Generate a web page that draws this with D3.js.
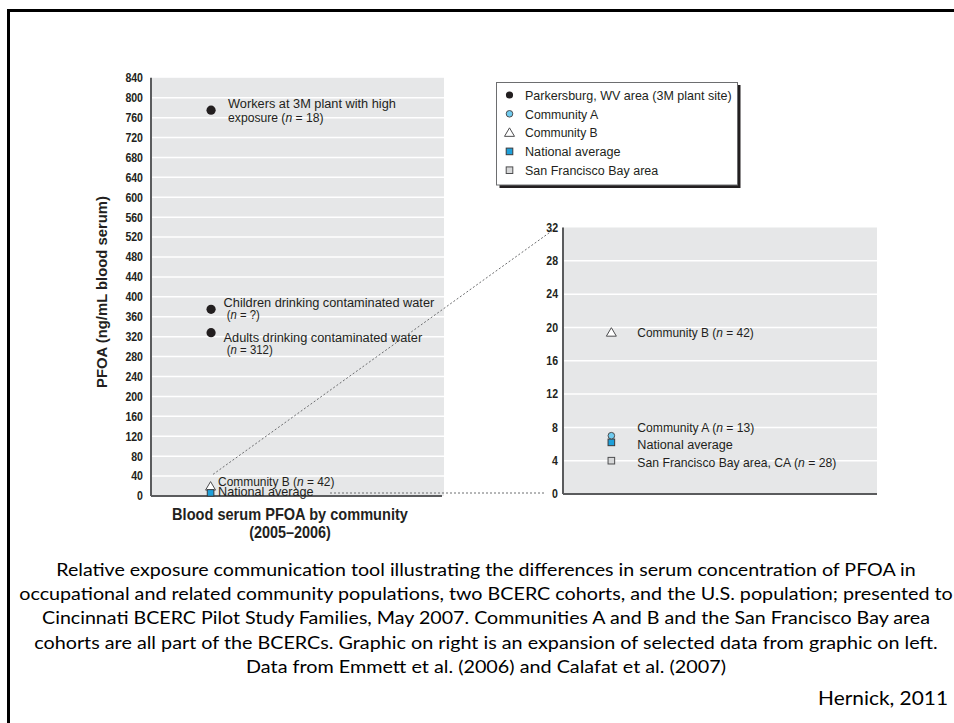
<!DOCTYPE html>
<html><head><meta charset="utf-8">
<script src="https://cdn.jsdelivr.net/npm/d3@7"></script>
<style>
html,body{margin:0;padding:0;background:#fff;}
svg{display:block;}
.c{font-family:"Liberation Sans",Arial,sans-serif;fill:#231f20;}
.cap{font-family:Lato,"Open Sans",sans-serif;fill:#000;}
</style></head>
<body>
<script>
// ---------- DATA ----------
const leftTicks = [0,40,80,120,160,200,240,280,320,360,400,440,480,520,560,600,640,680,720,760,800,840];
const rightTicks = [0,4,8,12,16,20,24,28,32];

const parkersburgLabels = [
  ["Workers at 3M plant with high", "exposure (n = 18)"],
  ["Children drinking contaminated water", "(n = ?)"],
  ["Adults drinking contaminated water", "(n = 312)"]
];
const parkersburgValues = [775, 375, 328];

const communityNames = ["Community A", "Community B", "National average", "San Francisco Bay area"];
const communityLabels = ["Community A (n = 13)", "Community B (n = 42)", "National average", "San Francisco Bay area, CA (n = 28)"];
const communityValues = [7.0, 19.4, 6.2, 4.0];

const legendLabels = ["Parkersburg, WV area (3M plant site)", "Community A", "Community B", "National average", "San Francisco Bay area"];

const yTitle = "PFOA (ng/mL blood serum)";
const xTitle = ["Blood serum PFOA by community", "(2005\u20132006)"];
const captionLines = [
  "Relative exposure communication tool illustrating the differences in serum concentration of PFOA in",
  "occupational and related community populations, two BCERC cohorts, and the U.S. population; presented to",
  "Cincinnati BCERC Pilot Study Families, May 2007. Communities A and B and the San Francisco Bay area",
  "cohorts are all part of the BCERCs. Graphic on right is an expansion of selected data from graphic on left.",
  "Data from Emmett et al. (2006) and Calafat et al. (2007)"
];
const credit = "Hernick, 2011";

// ---------- LAYOUT ----------
const W = 954, H = 723;
const svg = d3.select("body").append("svg").attr("width", W).attr("height", H);

// measured text widths (condensed look via horizontal scaling)
const textWidths = {
  "Workers at 3M plant with high": 168, "exposure (n = 18)": 95.6,
  "Children drinking contaminated water": 211, "(n = ?)": 33,
  "Adults drinking contaminated water": 199, "(n = 312)": 46,
  "Community B (n = 42)": 116.5, "Community A (n = 13)": 117, "National average": 95.6,
  "San Francisco Bay area, CA (n = 28)": 199,
  "Parkersburg, WV area (3M plant site)": 206.7, "Community A": 73.3, "Community B": 72.7,
  "San Francisco Bay area": 133.3
};

function fit(t, x, y, target, extra) {
  const w = t.node().getComputedTextLength();
  const s = target ? target / w : 1;
  t.attr("x", 0).attr("y", 0)
    .attr("transform", `translate(${x},${y})${extra || ""} scale(${s},1)`);
  return t;
}

// frame
svg.append("rect").attr("x", 8.5).attr("y", 10.5).attr("width", 1000).attr("height", 1000)
  .attr("fill", "none").attr("stroke", "#000").attr("stroke-width", 3);

const gray = "#e6e7e8", axisCol = "#5a5b5d";

const markerStyles = {
  "Parkersburg": {shape: "circle", fill: "#231f20", stroke: "none", r: 4.6},
  "Community A": {shape: "circle", fill: "#6fcbef", stroke: "#4d4d4f", r: 3.3},
  "Community B": {shape: "triangle", fill: "#fff", stroke: "#4d4d4f", r: 5},
  "National average": {shape: "square", fill: "#1ea0da", stroke: "#3a3a3c", r: 3.3},
  "San Francisco Bay area": {shape: "square", fill: "#d7d8d9", stroke: "#4d4d4f", r: 3.3}
};
function drawMarker(g, key, x, y, scale) {
  const s = markerStyles[key];
  const r = s.r * (scale || 1);
  if (s.shape === "circle") {
    g.append("circle").attr("cx", x).attr("cy", y).attr("r", r).attr("fill", s.fill)
      .attr("stroke", s.stroke).attr("stroke-width", 1);
  } else if (s.shape === "square") {
    g.append("rect").attr("x", x - r).attr("y", y - r).attr("width", 2*r).attr("height", 2*r)
      .attr("fill", s.fill).attr("stroke", s.stroke).attr("stroke-width", 1);
  } else {
    g.append("path").attr("d", `M${x},${y - r*0.95}L${x + r},${y + r*0.75}L${x - r},${y + r*0.75}Z`)
      .attr("fill", s.fill).attr("stroke", s.stroke).attr("stroke-width", 1);
  }
}
function richText(g, str, x, y, size) {
  const t = g.append("text").attr("class", "c").attr("font-size", size).attr("dy", "0.36em");
  const m = str.match(/^(.*\()n( = .*)$/);
  if (m) {
    t.append("tspan").text(m[1]);
    t.append("tspan").attr("font-style", "italic").text("n");
    t.append("tspan").text(m[2]);
  } else t.text(str);
  return fit(t, x, y, textWidths[str]);
}

// ---------- LEFT CHART ----------
const L = {x0: 151, x1: 444};
const yL = d3.scaleLinear().domain([0, 840]).range([496, 77.8]);
const xL = d3.scaleLinear().domain([0, 1]).range([L.x0, L.x1]);
const gL = svg.append("g");
gL.append("rect").attr("x", L.x0).attr("y", yL(840)).attr("width", L.x1 - L.x0).attr("height", yL(0) - yL(840)).attr("fill", gray);
gL.selectAll("line.grid").data(leftTicks.filter(d => d > 0 && d < 840)).join("line")
  .attr("x1", L.x0).attr("x2", L.x1).attr("y1", d => yL(d)).attr("y2", d => yL(d))
  .attr("stroke", "#fff").attr("stroke-width", 1.5);
const axL = gL.append("g").attr("transform", `translate(${L.x0},0)`)
  .call(d3.axisLeft(yL).tickValues(leftTicks).tickSize(0).tickPadding(8).tickFormat(d3.format("d")));
axL.select(".domain").remove();
axL.selectAll("text").attr("class", "c").attr("font-size", 12).attr("font-weight", "bold").attr("fill", "#3a3a3c")
  .attr("transform", "scale(0.88,1)");
axL.selectAll(".tick text").attr("x", -8 / 0.88);
gL.append("line").attr("x1", L.x0).attr("x2", L.x0).attr("y1", yL(840)).attr("y2", yL(0)).attr("stroke", axisCol).attr("stroke-width", 2);
gL.append("line").attr("x1", L.x0).attr("x2", 442).attr("y1", yL(0)).attr("y2", yL(0)).attr("stroke", axisCol).attr("stroke-width", 2);

const px = xL(0.205);
// dotted connectors (behind markers)
const yR = d3.scaleLinear().domain([0, 32]).range([494, 227.5]);
const R = {x0: 563, x1: 877};
svg.append("line").attr("x1", px + 2).attr("y1", yL(communityValues[1]) - 12)
  .attr("x2", R.x0 - 5).attr("y2", yR(32) - 1)
  .attr("stroke", "#6d6e70").attr("stroke-width", 1).attr("stroke-dasharray", "2,2");
svg.append("line").attr("x1", 330).attr("y1", yR(0) - 1).attr("x2", R.x0 - 18).attr("y2", yR(0) - 1)
  .attr("stroke", "#6d6e70").attr("stroke-width", 1).attr("stroke-dasharray", "2,2");

parkersburgValues.forEach(v => drawMarker(gL, "Parkersburg", px, yL(v)));
const leftLabelDy = [[-7, 7], [-7, 4.5], [4.5, 16]];
const leftLabelDx = [[17, 17], [12.5, 15.7], [12.5, 15.7]];
parkersburgLabels.forEach((lines, i) => {
  lines.forEach((ln, j) => richText(gL, ln, px + leftLabelDx[i][j], yL(parkersburgValues[i]) + leftLabelDy[i][j], 13.5));
});
drawMarker(gL, "Community B", px - 0.5, yL(communityValues[1]));
drawMarker(gL, "National average", px - 0.5, yL(communityValues[2]));
richText(gL, communityLabels[1], px + 7, yL(communityValues[1]) - 5.5, 13);
richText(gL, communityLabels[2], px + 7, yL(communityValues[2]) - 1.2, 13);

// axis titles
fit(gL.append("text").attr("class", "c").attr("text-anchor", "middle").attr("dy", "0.36em")
  .attr("font-size", 15).attr("font-weight", "bold").text(yTitle), 102, 292, 192, " rotate(-90)");
const xTitleW = [236, 81.7];
xTitle.forEach((t, i) => fit(gL.append("text").attr("class", "c").attr("text-anchor", "middle").attr("dy", "0.36em")
  .attr("font-size", 16).attr("font-weight", "bold").text(t), 290, 514.5 + i * 17.5, xTitleW[i]));

// ---------- RIGHT CHART ----------
const gR = svg.append("g");
gR.append("rect").attr("x", R.x0).attr("y", yR(32)).attr("width", R.x1 - R.x0).attr("height", yR(0) - yR(32)).attr("fill", gray);
gR.selectAll("line.grid").data(rightTicks.filter(d => d > 0 && d < 32)).join("line")
  .attr("x1", R.x0).attr("x2", R.x1).attr("y1", d => yR(d)).attr("y2", d => yR(d))
  .attr("stroke", "#fff").attr("stroke-width", 1.5);
const axR = gR.append("g").attr("transform", `translate(${R.x0},0)`)
  .call(d3.axisLeft(yR).tickValues(rightTicks).tickSize(0).tickPadding(5).tickFormat(d3.format("d")));
axR.select(".domain").remove();
axR.selectAll("text").attr("class", "c").attr("font-size", 12).attr("font-weight", "bold").attr("fill", "#3a3a3c")
  .attr("transform", "scale(0.88,1)");
axR.selectAll(".tick text").attr("x", -5 / 0.88);
gR.append("line").attr("x1", R.x0).attr("x2", R.x0).attr("y1", yR(32)).attr("y2", yR(0)).attr("stroke", axisCol).attr("stroke-width", 2);
gR.append("line").attr("x1", R.x0).attr("x2", R.x1).attr("y1", yR(0)).attr("y2", yR(0)).attr("stroke", axisCol).attr("stroke-width", 2);

const xR = d3.scaleLinear().domain([0, 1]).range([R.x0, R.x1]);
const rx = xR(0.154);
// draw order: SF, national, community A, community B
[3, 2, 0, 1].forEach(i => drawMarker(gR, communityNames[i], rx, yR(communityValues[i])));
const rightLabelDy = [-8.3, 0, 2, 1];
communityLabels.forEach((lab, i) => {
  richText(gR, lab, rx + 26, yR(communityValues[i]) + rightLabelDy[i], 13.5);
});

// ---------- LEGEND ----------
const lg = svg.append("g");
lg.append("rect").attr("x", 499.5).attr("y", 85).attr("width", 241).attr("height", 103).attr("fill", "#231f20");
lg.append("rect").attr("x", 496.5).attr("y", 82.5).attr("width", 241).attr("height", 102.5)
  .attr("fill", "#fff").attr("stroke", "#6d6e70").attr("stroke-width", 1);
const legKeys = ["Parkersburg", "Community A", "Community B", "National average", "San Francisco Bay area"];
legendLabels.forEach((lab, i) => {
  const y = 95 + i * 18.8;
  const k = legKeys[i];
  drawMarker(lg, k, 509.5, y, k === "Parkersburg" ? 0.78 : 1);
  richText(lg, lab, 525, y, 13.5);
});

// ---------- CAPTION ----------
const capWidths = [860, 934, 888, 904, 480];
captionLines.forEach((ln, i) => {
  fit(svg.append("text").attr("class", "cap").attr("text-anchor", "middle").attr("font-size", 18).text(ln),
    486, 575.5 + i * 24.4, capWidths[i]);
});
fit(svg.append("text").attr("class", "cap").attr("text-anchor", "end").attr("font-size", 19).text(credit), 948, 705, 130);
</script>
</body></html>
